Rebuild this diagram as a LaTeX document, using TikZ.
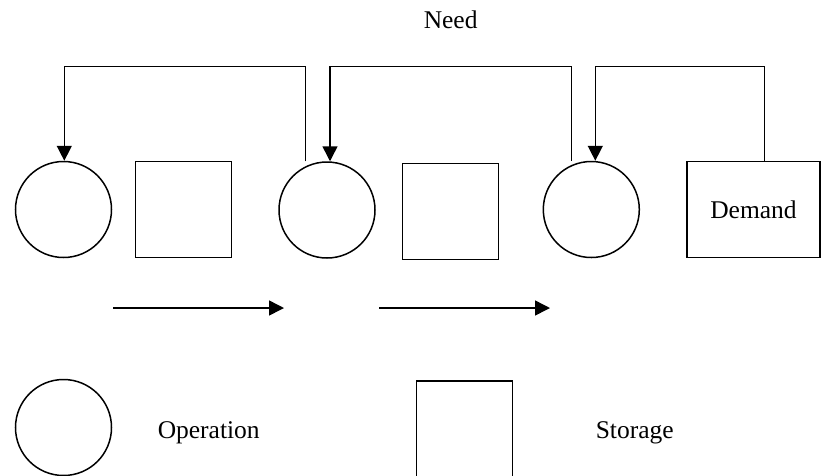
\documentclass[tikz,border=0pt]{standalone}
\usepackage{fontspec}
\setmainfont{Liberation Serif}
\usetikzlibrary{arrows.meta}
\begin{document}
\begin{tikzpicture}[x=1pt,y=-1pt,
  line width=1.5pt,
  every node/.style={font=\fontsize{25.5}{30}\selectfont},
  operation/.style={draw, circle, inner sep=0pt, minimum size=96pt},
  storage/.style={draw, rectangle, inner sep=0pt, minimum width=96pt, minimum height=96pt},
  label/.style={inner sep=0pt, anchor=base west},
  flow/.style={-{Triangle[length=15pt,width=15pt]}}
]
\useasboundingbox (0,0) rectangle (821,475);

% process chain
\node[operation] (c1) at (63.5,209.5) {};
\node[storage]   (s1) at (183.3,209.5) {};
\node[operation] (c2) at (327,210) {};
\node[storage]   (s2) at (450.7,211.3) {};
\node[operation] (c3) at (591.3,209.5) {};
\node[storage, minimum width=133pt] (dem) at (753.5,209.5) {Demand};

\node[label] (need) at (423,28) {Need};

% entry and exit points of the need signals
\coordinate (in1) at ([xshift=0.8pt]c1.north);
\coordinate (in2) at ([xshift=3pt]c2.north);
\coordinate (in3) at ([xshift=4pt]c3.north);
\coordinate (out2) at ([xshift=-21.3pt]c2.north);
\coordinate (out3) at ([xshift=-19.6pt]c3.north);
\coordinate (outd) at ([xshift=10.8pt]dem.north);
\coordinate (top) at (0,66.7);

% need signals passed back upstream
\draw[flow] (out2) |- (top -| in1) -- (in1);
\draw[flow] (out3) |- (top -| in2) -- (in2);
\draw[flow] (outd) |- (top -| in3) -- (in3);

% material flow direction
\coordinate (f1a) at (113,308);
\coordinate (f1b) at (284,308);
\coordinate (f2a) at (379,308);
\coordinate (f2b) at (550,308);
\draw[flow] (f1a) -- (f1b);
\draw[flow] (f2a) -- (f2b);

% legend
\node[operation] (lc) at (63.5,427.5) {};
\node[label] (lop) at (157,438) {Operation};
\node[storage] (ls) at (464.5,429) {};
\node[label] (lst) at (595,438) {Storage};
\end{tikzpicture}
\end{document}
